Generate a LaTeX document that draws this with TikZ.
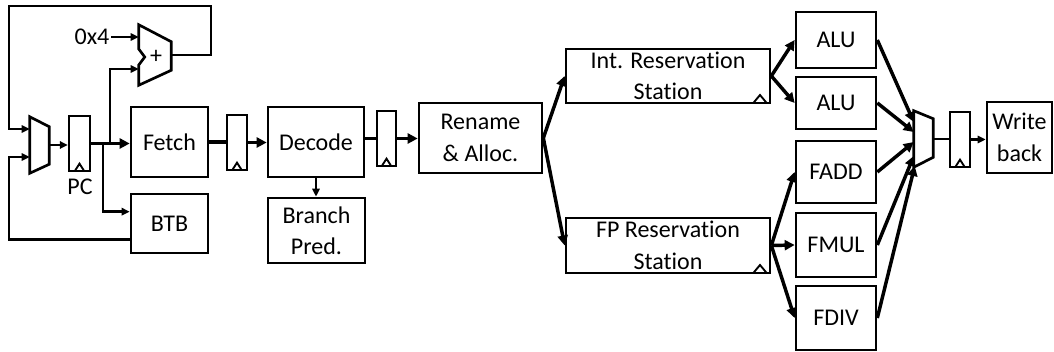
\documentclass[tikz,border=0pt]{standalone}
\usepackage{fontspec}
\setmainfont[Ligatures=NoCommon]{Carlito}
\usetikzlibrary{arrows.meta,fit,calc}
\begin{document}
\begin{tikzpicture}[x=0.75pt,y=-0.75pt,
  font=\fontsize{18}{23.5}\selectfont,
  boxtext/.style={align=center, inner sep=0pt},
  box/.style={draw, line width=2pt, inner sep=0pt, fit={#1}},
  shapebox/.style={draw=none, inner sep=0pt, fit={#1}},
  reg/.style={draw, line width=1.8pt, inner sep=0pt, fit={#1},
    path picture={\draw[line width=1.4pt]
      ([xshift=-3.5pt]path picture bounding box.south) --
      ([yshift=5.5pt]path picture bounding box.south) --
      ([xshift=3.5pt]path picture bounding box.south);}},
  rsbox/.style={box={#1},
    path picture={\draw[line width=1.4pt]
      ([xshift=-12.5pt]path picture bounding box.south east) --
      ([xshift=-7.5pt,yshift=6pt]path picture bounding box.south east) --
      ([xshift=-2.5pt]path picture bounding box.south east);}},
  outline/.style={draw, line width=2pt, line join=miter},
  fatline/.style={line width=2.6pt},
  fatarr/.style={line width=2.6pt, -{Triangle[length=7.5pt,width=7.5pt]}},
  thinline/.style={line width=1.9pt},
  thinarr/.style={line width=1.9pt, -{Triangle[length=6pt,width=5.5pt]}},
]
\useasboundingbox (0,0) rectangle (1054,352);

% ---------------- fetch stage ----------------
\node[shapebox={(30,117)(49,173)}] (mux1) {};
\draw[outline] (mux1.north west) -- ($(mux1.north east)+(0,10)$)
  -- ($(mux1.south east)+(0,-9)$) -- (mux1.south west) -- cycle;

\node[reg={(69,116)(90,171)}] (pc) {};
\node (pclbl) at (80,187) {PC};

\node[shapebox={(139,25)(171,85)}] (adder) {};
\draw[outline] (adder.north west) -- ($(adder.north east)+(0,17)$)
  -- ($(adder.south east)+(0,-15)$) -- (adder.south west)
  -- ($(adder.west)+(0,10)$) -- ($(adder.west)+(6,2)$)
  -- ($(adder.west)+(0,-6)$) -- cycle;
\node[inner sep=0pt] (plus) at ($(adder.center)+(1,2)$) {+};
\node[anchor=east, inner sep=1pt] (c4) at (111,37) {0x4};

\node[box={(131,107)(208,177)}, label={[boxtext]center:Fetch}] (fetch) {};
\node[box={(131,194)(208,253)}, label={[boxtext]center:BTB}] (btb) {};
\node[reg={(227,115)(247,170)}] (reg2) {};

% ---------------- decode / rename ----------------
\node[box={(268,107)(364,177)}, label={[boxtext]center:Decode}] (decode) {};
\node[box={(268,198)(365,263)}, label={[boxtext]center:Branch\\Pred.}] (branch) {};
\node[reg={(377,111)(396,166)}] (reg3) {};
\node[box={(419,103)(542,173)}, label={[boxtext]center:Rename\\\& Alloc.}] (rename) {};

% ---------------- issue / execute ----------------
\node[rsbox={(566,49)(770,103)}, label={[boxtext]center:Int. Reservation\\Station}] (intrs) {};
\node[rsbox={(566,218)(770,273)}, label={[boxtext]center:FP Reservation\\Station}] (fprs) {};

\node[box={(796,12)(876,68)}, label={[boxtext]center:ALU}] (alu1) {};
\node[box={(796,77)(876,129)}, label={[boxtext]center:ALU}] (alu2) {};
\node[box={(796,141)(876,203)}, label={[boxtext]center:FADD}] (fadd) {};
\node[box={(796,213)(876,277)}, label={[boxtext]center:FMUL}] (fmul) {};
\node[box={(796,286)(876,350)}, label={[boxtext]center:FDIV}] (fdiv) {};

% ---------------- write back ----------------
\node[shapebox={(914,111)(933,167)}] (mux2) {};
\draw[outline] (mux2.north west) -- ($(mux2.north east)+(0,8)$)
  -- ($(mux2.south east)+(0,-10)$) -- (mux2.south west) -- cycle;
\node[reg={(950,112)(970,167)}] (reg4) {};
\node[box={(987,102)(1052,173)}, label={[boxtext]center:Write\\back}] (wb) {};

% ---------------- junctions and ports ----------------
\coordinate (jup) at (110,143.5);
\coordinate (jdn) at (103,143.5);
\coordinate (addin2) at ($(adder.west)+(0,14)$);
\coordinate (btbin) at ($(btb.north west)+(0,19)$);
\coordinate (btbout) at ($(btb.south west)+(0,-15)$);
\coordinate (m1a) at ($(mux1.west)+(0,-16)$);
\coordinate (m1b) at ($(mux1.west)+(0,12)$);
\coordinate (lp) at (9,6);
\coordinate (rp) at (211,6);
\coordinate (m2a) at ($(mux2.west)+(0,-17)$);
\coordinate (m2b) at ($(mux2.west)+(0,-7)$);
\coordinate (m2c) at ($(mux2.west)+(0,3)$);
\coordinate (m2d) at ($(mux2.west)+(0,17)$);
\coordinate (m2e) at ($(mux2.west)+(1,27)$);

% ---------------- connectors ----------------
\draw[thinarr] (c4.east) -- (adder.west |- c4.east);
\draw[thinarr] (adder.east) -| (rp) -- (lp) |- (m1a);
\draw[thinarr] (btbout) -| (lp |- m1b) -- (m1b);
\draw[thinarr] (mux1.east) -- (pc.west |- mux1.east);
\draw[fatarr] (pc.east) -- (fetch.west |- pc.east);
\draw[thinarr] (jup) |- (addin2);
\draw[thinarr] (jdn) |- (btbin);

\draw[fatline] (fetch.east) -- (fetch.east -| reg2.west);
\draw[fatarr] (reg2.east) -- (decode.west |- reg2.east);
\draw[thinarr] (decode.south) -- (branch.north -| decode.south);
\draw[fatline] (decode.east |- reg3.west) -- (reg3.west);
\draw[fatarr] (reg3.east) -- (rename.west |- reg3.east);

\draw[fatarr] (rename.east) -- (intrs.west);
\draw[fatarr] (rename.east) -- (fprs.west);
\draw[fatarr] (intrs.east) -- (alu1.west);
\draw[fatarr] (intrs.east) -- (alu2.west);
\draw[fatarr] (fprs.east) -- (fadd.west);
\draw[fatarr] (fprs.east) -- (fmul.west);
\draw[fatarr] (fprs.east) -- (fdiv.west);

\draw[fatarr] (alu1.east) -- (m2a);
\draw[fatarr] (alu2.east) -- (m2b);
\draw[fatarr] (fadd.east) -- (m2c);
\draw[fatarr] (fmul.east) -- (m2d);
\draw[fatarr] (fdiv.east) -- (m2e);

\draw[thinline] (mux2.east) -- (reg4.west |- mux2.east);
\draw[thinarr] (reg4.east) -- (wb.west |- reg4.east);
\end{tikzpicture}
\end{document}
